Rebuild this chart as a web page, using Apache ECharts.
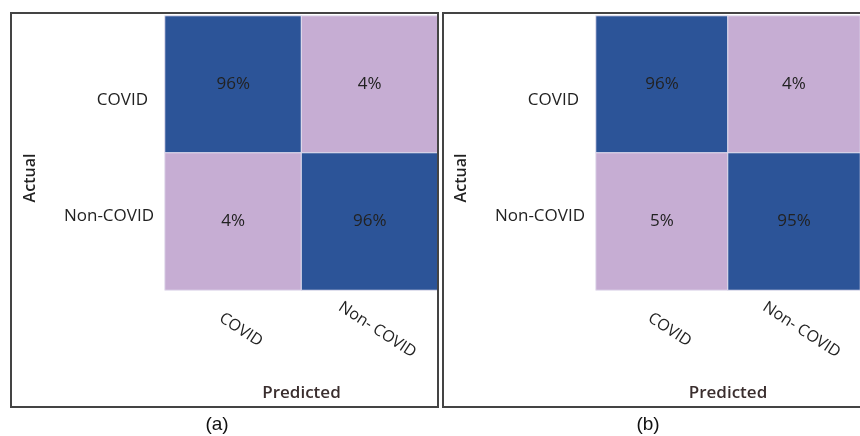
<!DOCTYPE html>
<html>
<head>
<meta charset="utf-8">
<script src="https://cdn.jsdelivr.net/npm/echarts@6/dist/echarts.min.js"></script>
<style>
  html, body { margin: 0; padding: 0; background: #fff; }
  #chart { width: 860px; height: 436px; }
</style>
</head>
<body>
<div id="chart"></div>
<script>
// confusion matrices, rows = actual, cols = predicted
const actualLabels = ['COVID', 'Non-COVID'];
const predictedLabels = ['COVID', 'Non- COVID'];
const matrixA = [[96, 4], [4, 96]];
const matrixB = [[96, 4], [5, 95]];
const captions = ['(a)', '(b)'];

const BLUE = '#2c5498';
const PURPLE = '#c6add3';
const FONT = '"Open Sans", sans-serif';

function toCells(m) {
  const out = [];
  m.forEach((row, r) => row.forEach((v, c) => out.push([c, r, v])));
  return out;
}

const grids = [
  { left: 165, top: 16, width: 273, height: 274 },
  { left: 596, top: 16, width: 274, height: 274 }
];

const xAxes = grids.map((g, i) => ({
  type: 'category',
  gridIndex: i,
  data: predictedLabels,
  axisLine: { show: false },
  axisTick: { show: false },
  axisLabel: {
    rotate: -33,
    align: 'center',
    verticalAlign: 'middle',
    margin: 35,
    padding: [0, 0, 0, 18],
    fontFamily: FONT,
    fontSize: 16,
    color: '#222'
  },
  name: 'Predicted',
  nameLocation: 'middle',
  nameGap: 95,
  nameTextStyle: { fontFamily: FONT, fontSize: 17, fontWeight: 600, color: '#3a2e2e' }
}));

const yAxes = grids.map((g, i) => ({
  type: 'category',
  gridIndex: i,
  data: actualLabels,
  inverse: true,
  axisLine: { show: false },
  axisTick: { show: false },
  axisLabel: {
    margin: 11,
    fontFamily: FONT,
    fontSize: 17,
    color: '#222',
    formatter: v => (v === 'COVID' ? '{a|' + v + '}' : '{b|' + v + '}'),
    rich: {
      a: { fontFamily: FONT, fontSize: 17, color: '#222', padding: [32, 6, 0, 0] },
      b: { fontFamily: FONT, fontSize: 17, color: '#222', padding: [0, 0, 10, 0] }
    }
  },
  name: 'Actual',
  nameLocation: 'middle',
  nameGap: 127,
  nameTextStyle: { fontFamily: FONT, fontSize: 16, fontWeight: 600, color: '#222', padding: [0, 50, 0, 0] }
}));

const series = [matrixA, matrixB].map((m, i) => ({
  type: 'heatmap',
  xAxisIndex: i,
  yAxisIndex: i,
  data: toCells(m),
  itemStyle: { borderColor: '#e6e2f0', borderWidth: 1 },
  label: {
    show: true,
    formatter: p => p.value[2] + '%',
    fontFamily: FONT,
    fontSize: 17,
    color: '#222'
  },
  emphasis: { disabled: true }
}));

const chart = echarts.init(document.getElementById('chart'), null, { renderer: 'canvas' });
chart.setOption({
  backgroundColor: '#fff',
  animation: false,
  grid: grids,
  xAxis: xAxes,
  yAxis: yAxes,
  visualMap: {
    show: false,
    type: 'piecewise',
    seriesIndex: [0, 1],
    dimension: 2,
    pieces: [
      { lt: 50, color: PURPLE },
      { gte: 50, color: BLUE }
    ]
  },
  series: series,
  graphic: [
    { type: 'rect', shape: { x: 11, y: 13, width: 427, height: 394 },
      style: { fill: 'none', stroke: '#444', lineWidth: 2 }, z: 10 },
    { type: 'rect', shape: { x: 443, y: 13, width: 440, height: 394 },
      style: { fill: 'none', stroke: '#444', lineWidth: 2 }, z: 10 },
    { type: 'text', x: 217, y: 425,
      style: { text: captions[0], font: '19px "Liberation Sans", Arial, sans-serif', fill: '#111', textAlign: 'center', textVerticalAlign: 'middle' } },
    { type: 'text', x: 648, y: 425,
      style: { text: captions[1], font: '19px "Liberation Sans", Arial, sans-serif', fill: '#111', textAlign: 'center', textVerticalAlign: 'middle' } }
  ]
});
</script>
</body>
</html>
